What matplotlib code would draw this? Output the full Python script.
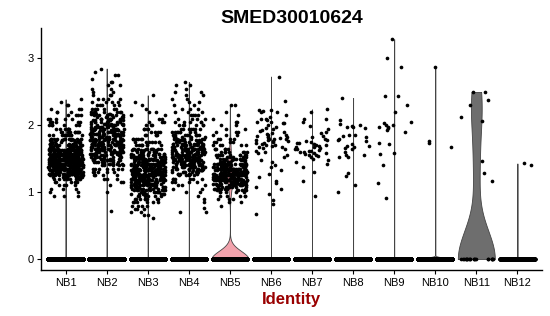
import numpy as np
import matplotlib
matplotlib.use("Agg")
import matplotlib.pyplot as plt

plt.rcParams['font.family'] = ['Liberation Sans', 'DejaVu Sans']

# 各组名称
groups = ['NB1', 'NB2', 'NB3', 'NB4', 'NB5', 'NB6', 'NB7', 'NB8', 'NB9', 'NB10', 'NB11', 'NB12']

# 表达量为0的细胞数
zero_counts = [80000, 80000, 70000, 60000, 1100, 40000, 30000, 30000, 30000, 2000, 20, 2000]

# 密集组：表达值分箱 (值, 细胞数)
nb1_vals = [0.95, 1.0, 1.05, 1.1, 1.15,
            1.2, 1.225, 1.25, 1.275, 1.3, 1.325, 1.35, 1.375, 1.4, 1.425, 1.45, 1.475, 1.5, 1.525,
            1.55, 1.575, 1.6, 1.625, 1.65, 1.675, 1.7, 1.725, 1.75, 1.775,
            1.8, 1.85, 1.9, 1.95, 2.0, 2.05, 2.1, 2.15, 2.2, 2.25, 2.3, 2.35, 2.39]
nb1_counts = [3, 2, 3, 4, 6,
              8, 10, 13, 16, 19, 21, 23, 24, 24, 24, 24, 24, 24, 23,
              22, 21, 19, 17, 15, 13, 11, 9, 8, 7,
              12, 10, 9, 7, 6, 5, 5, 4, 3, 3, 2, 1, 1]

nb2_vals = [0.72, 1.0, 1.1, 1.15, 1.2, 1.25, 1.3, 1.35,
            1.4, 1.425, 1.45, 1.475, 1.5, 1.525, 1.55, 1.575, 1.6, 1.625, 1.65, 1.675, 1.7, 1.725,
            1.75, 1.775, 1.8, 1.825, 1.85, 1.875, 1.9, 1.925, 1.95, 1.975, 2.0, 2.025, 2.05, 2.075,
            2.1, 2.125, 2.15, 2.175,
            2.2, 2.25, 2.3, 2.35, 2.4, 2.45, 2.5, 2.55, 2.6, 2.65, 2.7, 2.75, 2.8, 2.85]
nb2_counts = [1, 1, 1, 2, 3, 4, 5, 7,
              5, 6, 7, 8, 9, 9, 10, 10, 11, 11, 12, 12, 12, 12,
              12, 12, 12, 12, 11, 11, 11, 10, 10, 9, 9, 8, 8, 7,
              7, 6, 6, 5,
              8, 6, 5, 4, 4, 3, 2, 2, 2, 2, 1, 2, 1, 1]

nb3_vals = [0.62, 0.66, 0.7, 0.75, 0.8, 0.85, 0.9,
            0.95, 0.975, 1.0, 1.025, 1.05, 1.075, 1.1, 1.125, 1.15, 1.175, 1.2, 1.225, 1.25, 1.275,
            1.3, 1.325, 1.35, 1.375, 1.4, 1.425, 1.45, 1.475, 1.5, 1.525, 1.55, 1.575, 1.6, 1.625,
            1.65, 1.7, 1.75, 1.8, 1.85, 1.9, 1.95, 2.0, 2.05, 2.1, 2.15, 2.2, 2.25, 2.3, 2.35, 2.45]
nb3_counts = [1, 2, 2, 3, 4, 6, 8,
              6, 7, 8, 9, 10, 11, 12, 13, 14, 15, 16, 16, 17, 17,
              17, 17, 16, 16, 15, 14, 13, 12, 11, 10, 9, 8, 7, 6,
              10, 8, 7, 6, 5, 4, 4, 3, 3, 2, 2, 2, 1, 1, 1, 1]

nb4_vals = [0.7, 0.77, 0.85, 0.9, 0.95, 1.0, 1.05, 1.1, 1.15, 1.2,
            1.25, 1.275, 1.3, 1.325, 1.35, 1.375, 1.4, 1.425, 1.45, 1.475, 1.5, 1.525, 1.55, 1.575,
            1.6, 1.625, 1.65, 1.675, 1.7, 1.725, 1.75, 1.775, 1.8, 1.825,
            1.85, 1.9, 1.95, 2.0, 2.05, 2.1, 2.15, 2.2, 2.25, 2.3, 2.35, 2.4, 2.45, 2.5, 2.55, 2.6, 2.65]
nb4_counts = [2, 1, 1, 1, 1, 2, 2, 3, 4, 6,
              5, 6, 7, 8, 9, 10, 11, 11, 12, 12, 12, 12, 12, 12,
              12, 11, 11, 10, 9, 9, 8, 8, 7, 6,
              9, 8, 7, 6, 5, 4, 4, 3, 3, 2, 2, 2, 2, 2, 1, 2, 1]

nb5_vals = [0.8, 0.85, 0.9, 0.95,
            1.0, 1.025, 1.05, 1.075, 1.1, 1.125, 1.15, 1.175, 1.2, 1.225, 1.25, 1.275, 1.3, 1.325,
            1.35, 1.375, 1.4, 1.425, 1.45, 1.475, 1.5, 1.525,
            1.55, 1.6, 1.65, 1.7, 1.75, 1.8, 1.85, 1.9, 1.95, 2.0, 2.05, 2.1, 2.15, 2.2, 2.3]
nb5_counts = [1, 2, 3, 5,
              5, 6, 8, 10, 12, 13, 14, 15, 16, 16, 17, 17, 16, 15,
              14, 13, 12, 11, 9, 8, 7, 6,
              10, 8, 6, 5, 4, 4, 3, 3, 2, 2, 2, 1, 1, 1, 2]

# 稀疏组：逐个细胞的表达值
nb6_vals = [2.73, 2.36, 2.23, 2.23, 2.21, 2.20, 2.20, 2.16, 2.12, 2.10, 2.09, 2.08, 2.05, 2.05, 2.03, 2.03,
            2.01, 1.98, 1.96, 1.95, 1.93, 1.92, 1.90, 1.88, 1.87, 1.86, 1.85, 1.84, 1.83, 1.83, 1.82, 1.81,
            1.80, 1.80, 1.79, 1.78, 1.78, 1.77, 1.76, 1.75, 1.74, 1.73, 1.72, 1.71, 1.70, 1.69, 1.68, 1.67,
            1.66, 1.64, 1.62, 1.60, 1.58, 1.55, 1.52, 1.48, 1.45, 1.41, 1.37, 1.33, 1.27, 1.23, 1.17, 1.13,
            1.08, 1.05, 0.98, 0.88, 0.83, 0.68]
nb7_vals = [2.24, 2.20, 2.10, 2.09, 2.05, 1.99, 1.95, 1.90, 1.88, 1.84, 1.82, 1.80, 1.78, 1.77, 1.75, 1.74,
            1.73, 1.72, 1.71, 1.70, 1.69, 1.68, 1.67, 1.66, 1.65, 1.64, 1.63, 1.62, 1.61, 1.60, 1.60, 1.59,
            1.58, 1.57, 1.56, 1.55, 1.54, 1.52, 1.50, 1.48, 1.45, 1.42, 1.38, 1.30, 1.16, 0.94]
nb8_vals = [2.41, 2.08, 2.02, 2.00, 1.99, 1.98, 1.97, 1.96, 1.86, 1.85, 1.84, 1.82, 1.80, 1.78, 1.76, 1.72,
            1.69, 1.69, 1.68, 1.66, 1.64, 1.60, 1.56, 1.55, 1.53, 1.53, 1.28, 1.24, 1.11, 1.00]
nb9_vals = [3.29, 3.00, 2.88, 2.44, 2.44, 2.31, 2.20, 2.05, 2.03, 2.01, 2.00, 1.98, 1.97, 1.96, 1.93, 1.90,
            1.74, 1.72, 1.58, 1.57, 1.40, 1.13, 0.92]
nb10_vals = [2.88, 1.76, 1.74, 1.67]
nb11_vals = [2.50, 2.50, 2.38, 2.31, 2.12, 2.06, 1.46, 1.28, 1.16]
nb12_vals = [1.43, 1.40]

# 小提琴填充色
fill_colors = ['#bdbdbd', '#bdbdbd', '#bdbdbd', '#8c8c8c', '#F2A3AD', '#bdbdbd',
               '#6e6e6e', '#bdbdbd', '#bdbdbd', '#bdbdbd', '#6E6E6E', '#3a3a3a']

nonzero = [np.repeat(nb1_vals, nb1_counts), np.repeat(nb2_vals, nb2_counts),
           np.repeat(nb3_vals, nb3_counts), np.repeat(nb4_vals, nb4_counts),
           np.repeat(nb5_vals, nb5_counts), np.array(nb6_vals), np.array(nb7_vals),
           np.array(nb8_vals), np.array(nb9_vals), np.array(nb10_vals),
           np.array(nb11_vals), np.array(nb12_vals)]


def bw_nrd0(x):
    # R 的 bw.nrd0
    hi = np.std(x, ddof=1)
    q75, q25 = np.percentile(x, [75, 25])
    lo = min(hi, (q75 - q25) / 1.34)
    if lo == 0:
        lo = hi
    return 0.9 * lo * len(x) ** -0.2


fig = plt.figure(figsize=(5.5, 3.16), dpi=100)
ax = fig.add_axes([0.0745, 0.1456, 0.911, 0.7654])
rng = np.random.default_rng(1)

for i, name in enumerate(groups):
    pos = i + 1
    data = np.concatenate([np.zeros(zero_counts[i]), nonzero[i]])
    # 小提琴 (scale = width, trim)
    bw = bw_nrd0(data)
    u, cnt = np.unique(data, return_counts=True)
    grid = np.linspace(data.min(), data.max(), 512)
    dens = (np.exp(-0.5 * ((grid[:, None] - u[None, :]) / bw) ** 2) * cnt).sum(axis=1)
    w = dens / dens.max() * 0.45
    ax.fill_betweenx(grid, pos - w, pos + w, facecolor=fill_colors[i],
                     edgecolor='#444444', linewidth=0.6, zorder=1)
    # 抖动散点
    xj = pos + rng.uniform(-0.42, 0.42, len(data))
    ax.scatter(xj, data, s=7, c='black', linewidths=0, zorder=2)

ax.set_xlim(0.4, 12.6)
ax.set_ylim(-0.1645, 3.4545)
ax.set_xticks(range(1, 13))
ax.set_xticklabels(groups)
ax.set_yticks([0, 1, 2, 3])
ax.tick_params(axis='both', labelsize=8, length=3, width=0.8, colors='black', pad=2.5)
for s in ['top', 'right']:
    ax.spines[s].set_visible(False)
for s in ['left', 'bottom']:
    ax.spines[s].set_linewidth(1.0)

ax.set_xlabel('Identity', fontsize=12, fontweight='bold', color='#990000', labelpad=3)
ax.set_title('SMED30010624', fontsize=14, fontweight='bold', pad=4)

fig.savefig('out.png', dpi=100)
